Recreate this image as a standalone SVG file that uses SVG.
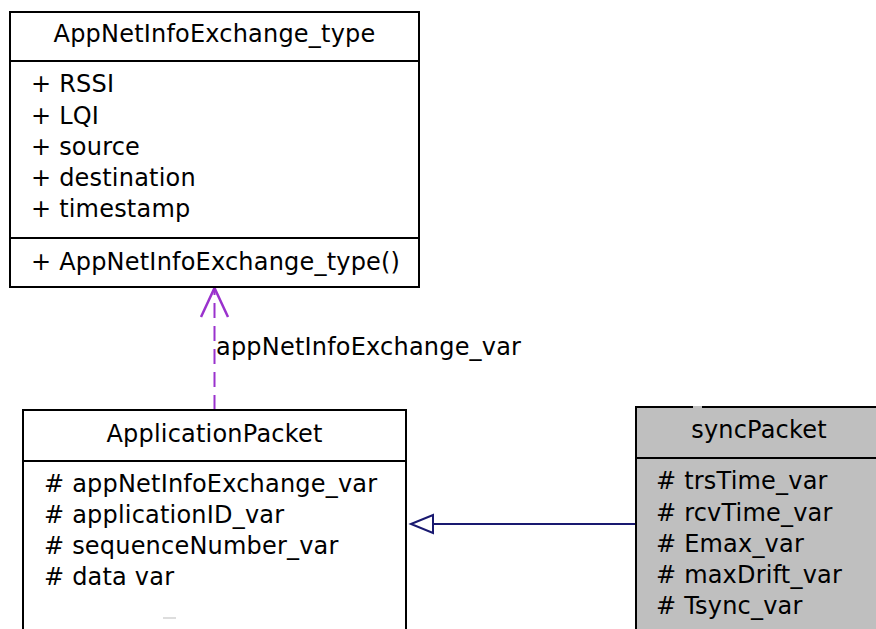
<svg xmlns="http://www.w3.org/2000/svg" width="876" height="629" viewBox="0 0 876 629">
<style>
.box{fill:#ffffff;stroke:#000000;stroke-width:2}
.gbox{fill:#bfbfbf;stroke:#000000;stroke-width:2}
.sep{stroke:#000000;stroke-width:2}
text{font-family:"DejaVu Sans",sans-serif;font-size:24px;fill:#000000;letter-spacing:0.2px}
.c{text-anchor:middle}
</style>
<rect width="876" height="629" fill="#ffffff"/>
<g id="connectors">
<line x1="214.5" y1="410" x2="214.5" y2="290" stroke="#9a32cd" stroke-width="2" stroke-dasharray="15,8"/>
<polyline points="201,317 214.5,288 228,317" fill="none" stroke="#9a32cd" stroke-width="2.5" stroke-linejoin="miter"/>
<text x="216" y="355">appNetInfoExchange_var</text>
<line x1="433" y1="524" x2="636" y2="524" stroke="#191970" stroke-width="2"/>
<polygon points="411,524 433,515 433,533" fill="#ffffff" stroke="#191970" stroke-width="2"/>
</g>
<g id="AppNetInfoExchange_type">
<rect class="box" x="10" y="12" width="409" height="275"/>
<line class="sep" x1="10" y1="61" x2="419" y2="61"/>
<line class="sep" x1="10" y1="238" x2="419" y2="238"/>
<text class="c" x="214.5" y="42">AppNetInfoExchange_type</text>
<text x="31" y="92">+ RSSI</text>
<text x="31" y="124">+ LQI</text>
<text x="31" y="155">+ source</text>
<text x="31" y="186">+ destination</text>
<text x="31" y="217">+ timestamp</text>
<text x="31" y="270">+ AppNetInfoExchange_type()</text>
</g>
<g id="ApplicationPacket">
<rect class="box" x="23" y="410" width="383" height="240"/>
<line class="sep" x1="23" y1="461" x2="406" y2="461"/>
<text class="c" x="214.5" y="442">ApplicationPacket</text>
<text x="44" y="492"># appNetInfoExchange_var</text>
<text x="44" y="523"># applicationID_var</text>
<text x="44" y="554"># sequenceNumber_var</text>
<text x="44" y="585"># data var</text>
<line x1="163" y1="618" x2="176" y2="618" stroke="#dddddd" stroke-width="2"/>
</g>
<g id="syncPacket">
<rect class="gbox" x="636" y="407" width="250" height="240"/>
<line class="sep" x1="636" y1="458" x2="886" y2="458"/>
<line x1="693" y1="407" x2="702" y2="407" stroke="#bfbfbf" stroke-width="2"/>
<text class="c" x="759" y="438">syncPacket</text>
<text x="656" y="489"># trsTime_var</text>
<text x="656" y="521"># rcvTime_var</text>
<text x="656" y="552"># Emax_var</text>
<text x="656" y="583"># maxDrift_var</text>
<text x="656" y="614"># Tsync_var</text>
</g>
</svg>
